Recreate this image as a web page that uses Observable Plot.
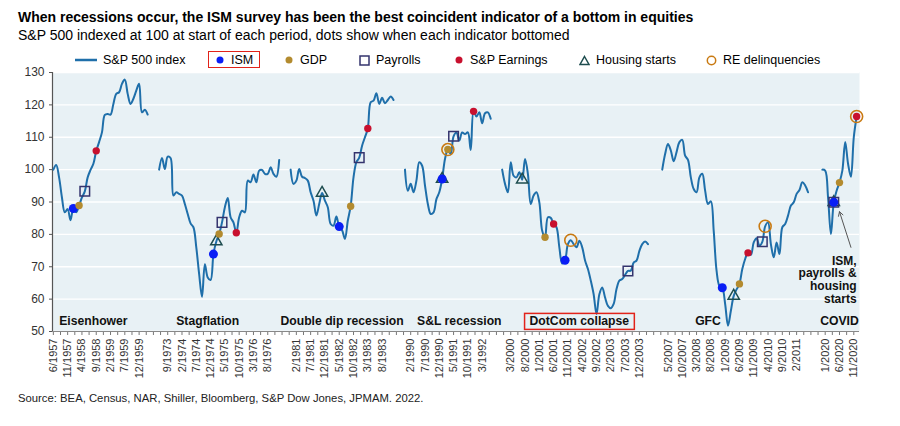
<!DOCTYPE html>
<html><head><meta charset="utf-8">
<script src="https://cdn.jsdelivr.net/npm/d3@7"></script>
<script src="https://cdn.jsdelivr.net/npm/@observablehq/plot@0.6"></script>
<style>
body{margin:0;background:#fff;font-family:"Liberation Sans",Arial,sans-serif;color:#000}
#wrap{position:relative;width:900px;height:426px;overflow:hidden}
#title{position:absolute;left:18px;top:9px;font-weight:bold;font-size:14px;white-space:nowrap}
#subtitle{position:absolute;left:18px;top:27px;font-size:14px;white-space:nowrap}
#legend{position:absolute;left:0;top:50px;height:20px;width:900px;font-size:12.5px}
.li{position:absolute;top:0;height:20px;display:flex;align-items:center;white-space:nowrap}
.li svg{margin-right:6px}
#ismbox{border:1.5px solid #E2231A;padding:0 6px 0 6px;height:17px;box-sizing:border-box;top:1px}
#chart{position:absolute;left:0;top:66px}
#source{position:absolute;left:18px;top:392px;font-size:11.3px;color:#222}
</style></head>
<body>
<div id="wrap">
  <div id="title">When recessions occur, the ISM survey has been the best coincident indicator of a bottom in equities</div>
  <div id="subtitle">S&amp;P 500 indexed at 100 at start of each period, dots show when each indicator bottomed</div>
  <div id="legend"></div>
  <div id="chart"></div>
  <div id="source">Source: BEA, Census, NAR, Shiller, Bloomberg, S&amp;P Dow Jones, JPMAM. 2022.</div>
</div>
<script>
// ---------- data ----------
const periodNames = ["Eisenhower","Stagflation","Double dip recession","S&L recession","DotCom collapse","GFC","COVID"];
const periodStarts = ["6/1957","6/1973","12/1980","12/1989","12/1999","3/2007","12/2019"];
const gapAfter = [3,3,3,3,4,4,0];
const periodLabelAt = ["8/1958","11/1974","6/1982","7/1991","3/2002","7/2008","6/2020"];

const spEisenhower = [100,101.4,97.6,91.4,86.8,87.8,84.4,88.0,86.8,88.9,91.4,93.3,97.6,99.9,101.8,105.8,108.5,111.5,116.9,117.2,117.0,120.3,123.4,123.9,126.5,127.8,123.4,120.3,121.9,124.4,126.5,117.7,118.5,117.0];
const spStagflation = [100,103.6,100.2,104.0,103.6,92.0,93.0,92.5,92.0,89.4,86.3,83.4,82.2,76.0,67.7,60.7,70.8,66.7,65.9,73.9,77.8,80.1,83.7,88.4,91.2,85.3,83.7,80.5,85.3,87.3,86.8,96.6,96.1,98.5,96.1,99.7,99.9,98.7,98.7,100.7,98.7,97.8,103.0];
const spDoubleDip = [100,95.6,96.6,100.2,97.8,97.4,96.6,93.0,90.4,85.8,89.4,92.8,90.4,88.4,83.2,82.7,85.5,82.4,81.3,78.6,84.2,88.7,97.6,102.3,103.7,107.4,110.0,112.7,120.8,121.3,123.6,120.3,122.2,120.5,121.5,122.6,121.5];
const spSL = [100,93.5,95.6,93.0,96.6,102.3,101.2,95.1,89.4,86.3,86.8,90.9,93.0,97.1,103.3,106.2,104.8,110.3,111.5,109.0,111.5,111.0,111.5,106.1,118.0,116.4,117.7,114.3,117.4,117.7,115.7];
const spDotCom = [100,95.6,93.0,102.3,98.1,97.6,99.2,96.9,103.3,98.7,89.4,92.0,93.0,89.9,81.1,79.1,85.3,85.1,83.2,82.2,76.0,71.0,72.0,77.0,78.2,77.0,76.0,78.0,76.0,71.9,69.3,65.7,61.5,55.4,61.5,63.6,60.5,57.9,57.2,58.5,63.1,65.7,66.2,67.5,68.7,68.8,71.3,71.9,74.9,77.0,77.8,77.0];
const spGFC = [100,104.8,107.9,105.9,102.6,105.4,108.5,109.2,104.3,103.0,97.6,94.0,93.0,97.6,98.7,93.5,89.4,90.2,81.1,68.8,64.1,63.5,58.5,51.8,56.4,61.0,63.0,64.7,69.3,72.4,74.3,73.7,77.5,78.8,76.5,77.7,82.5,83.7,77.0,72.9,77.5,73.9,82.2,83.2,85.8,88.9,89.9,92.5,93.7,96.1,95.1,93.0];
const spCOVID = [100,99.7,91.4,80.1,89.9,93.5,96.0,99.7,108.5,101.8,97.8,110.0,116.4];
const spSeries = [spEisenhower,spStagflation,spDoubleDip,spSL,spDotCom,spGFC,spCOVID];

// month at which each indicator bottomed (per period; null = none)
const ismBottom      = ["1/1958","1/1975","5/1982","1/1991","10/2001","12/2008","4/2020"];
const gdpBottom      = ["3/1958","3/1975","9/1982","3/1991","3/2001","6/2009","6/2020"];
const payrollsBottom = ["5/1958","4/1975","12/1982","5/1991","8/2003","2/2010","4/2020"];
const earningsBottom = ["9/1958","9/1975","3/1983","12/1991","6/2001","9/2009","12/2020"];
const housingBottom  = [null,"2/1975","11/1981","1/1991","7/2000","4/2009","4/2020"];
const reBottom       = [null,null,null,"3/1991","12/2001","3/2010","12/2020"];

const yTicks = [50,60,70,80,90,100,110,120,130];
const noteText = "ISM,\npayrolls &\nhousing\nstarts";
const noteArrow = {from: "10/2020", fromValue: 76, to: "6/2020", toValue: 87};
const noteAnchor = {at: "12/2020", value: 66};

// ---------- build category axis ----------
function addMonths(s, k){ const [m,y] = s.split("/").map(Number); const t = (y*12 + m-1) + k; return `${(t%12)+1}/${Math.floor(t/12)}`; }
const cats = []; const series = []; const idxOf = new Map();
spSeries.forEach((vals, p) => {
  vals.forEach((v, k) => {
    const lab = addMonths(periodStarts[p], k);
    idxOf.set(lab, cats.length);
    series.push({i: cats.length, v, period: p});
    cats.push(lab);
  });
  for (let g = 0; g < gapAfter[p]; g++) cats.push("");
});
const valueAt = new Map(series.map(d => [d.i, d.v]));
function pts(list){ return list.filter(d => d).map(d => ({i: idxOf.get(d), v: valueAt.get(idxOf.get(d))})); }
const tickIdx = d3.range(0, cats.length, 5);
const minorIdx = d3.range(2.5, cats.length, 5);
const last = cats.length - 1;

const BLUE_LINE = "#1F6FAA", ISM = "#0A1EF5", GDP = "#B38B2F", PAY = "#34346E", EARN = "#C8102E", HOUSE = "#1E4D4F", RE = "#C97A12";

const chart = Plot.plot({
  width: 900, height: 322,
  marginLeft: 52, marginRight: 41, marginTop: 6, marginBottom: 57,
  x: {domain: [-0.3, last + 1], axis: null},
  y: {domain: [50, 130], axis: null},
  style: {fontFamily: "'Liberation Sans', Arial, sans-serif", fontSize: "11px", color: "#333", background: "transparent", overflow: "visible"},
  marks: [
    Plot.frame({fill: "#E8F1F5", stroke: "none"}),
    Plot.gridY(yTicks, {stroke: "#fff", strokeOpacity: 1, strokeWidth: 1.3}),
    Plot.axisY(yTicks, {tickSize: 3, tickPadding: 5, fontSize: 12, color: "#333", stroke: "#555", label: null}),
    Plot.axisX(tickIdx, {tickSize: 4, tickPadding: 3, tickRotate: -90, fontSize: 11, tickFormat: i => cats[i] || "", stroke: "#777", color: "#333", label: null}),
    Plot.axisX(minorIdx, {tickSize: 4, tickFormat: () => "", stroke: "#777", label: null}),
    Plot.ruleY([50], {stroke: "#888", strokeWidth: 1.2}),
    Plot.ruleX([-0.3], {stroke: "#555", strokeWidth: 1.2}),
    Plot.line(series, {x: "i", y: "v", z: "period", stroke: BLUE_LINE, strokeWidth: 2, curve: "catmull-rom"}),
    Plot.text(periodNames.map((n, p) => ({n, i: idxOf.get(periodLabelAt[p])})), {x: "i", frameAnchor: "bottom", dy: -10, lineAnchor: "middle", text: "n", fontWeight: "bold", fontSize: 12.2, fill: "#111"}),
    Plot.dot(pts(housingBottom), {x: "i", y: "v", symbol: "triangle", r: 4.2, stroke: HOUSE, strokeWidth: 1.5, fill: "none"}),
    Plot.dot(pts(payrollsBottom), {x: "i", y: "v", symbol: "square", r: 5.4, stroke: PAY, strokeWidth: 1.5, fill: "none"}),
    Plot.dot(pts(reBottom), {x: "i", y: "v", r: 6, stroke: RE, strokeWidth: 1.6, fill: "none"}),
    Plot.dot(pts(ismBottom), {x: "i", y: "v", r: 4.5, fill: ISM}),
    Plot.dot(pts(gdpBottom), {x: "i", y: "v", r: 3.7, fill: GDP}),
    Plot.dot(pts(earningsBottom), {x: "i", y: "v", r: 3.7, fill: EARN}),
    Plot.arrow([noteArrow], {x1: d => idxOf.get(d.from), y1: "fromValue", x2: d => idxOf.get(d.to), y2: "toValue", stroke: "#555", strokeWidth: 1, headLength: 7}),
    Plot.text([noteAnchor], {x: d => idxOf.get(d.at), y: "value", text: () => noteText, textAnchor: "end", lineAnchor: "middle", lineHeight: 1.05, fontWeight: "bold", fontSize: 12, fill: "#111"})
  ]
});
document.getElementById("chart").appendChild(chart);

// red box around "DotCom collapse"
chart.querySelectorAll("text").forEach(t => {
  if (t.textContent === "DotCom collapse") {
    const b = t.getBBox();
    const r = document.createElementNS("http://www.w3.org/2000/svg", "rect");
    r.setAttribute("x", b.x - 5); r.setAttribute("y", b.y - 1);
    r.setAttribute("width", b.width + 10); r.setAttribute("height", b.height + 2);
    r.setAttribute("fill", "none"); r.setAttribute("stroke", "#E2231A"); r.setAttribute("stroke-width", 1.5);
    const tr = t.getAttribute("transform"); if (tr) r.setAttribute("transform", tr);
    t.parentNode.insertBefore(r, t);
  }
});

// ---------- legend ----------
const legendItems = [
  {label: "S&P 500 index", x: 75, sym: `<svg width="22" height="10"><line x1="0" y1="5" x2="22" y2="5" stroke="${BLUE_LINE}" stroke-width="2.5"/></svg>`},
  {label: "ISM", x: 208, id: "ismbox", sym: `<svg width="10" height="10"><circle cx="5" cy="5" r="3.5" fill="${ISM}"/></svg>`},
  {label: "GDP", x: 284, sym: `<svg width="10" height="10"><circle cx="5" cy="5" r="3.5" fill="${GDP}"/></svg>`},
  {label: "Payrolls", x: 359, sym: `<svg width="11" height="11"><rect x="1" y="1" width="9" height="9" fill="none" stroke="${PAY}" stroke-width="1.5"/></svg>`},
  {label: "S&P Earnings", x: 454, sym: `<svg width="10" height="10"><circle cx="5" cy="5" r="3.5" fill="${EARN}"/></svg>`},
  {label: "Housing starts", x: 579, sym: `<svg width="11" height="11"><path d="M5.5 1.5 L10 9.5 L1 9.5 Z" fill="none" stroke="${HOUSE}" stroke-width="1.5"/></svg>`},
  {label: "RE delinquencies", x: 706, sym: `<svg width="11" height="11"><circle cx="5.5" cy="5.5" r="4.2" fill="none" stroke="${RE}" stroke-width="1.5"/></svg>`}
];
const lg = document.getElementById("legend");
legendItems.forEach(it => {
  const d = document.createElement("div");
  d.className = "li"; if (it.id) d.id = it.id;
  d.style.left = it.x + "px";
  d.innerHTML = it.sym + `<span>${it.label.replace("&","&amp;")}</span>`;
  lg.appendChild(d);
});
</script>
</body></html>
